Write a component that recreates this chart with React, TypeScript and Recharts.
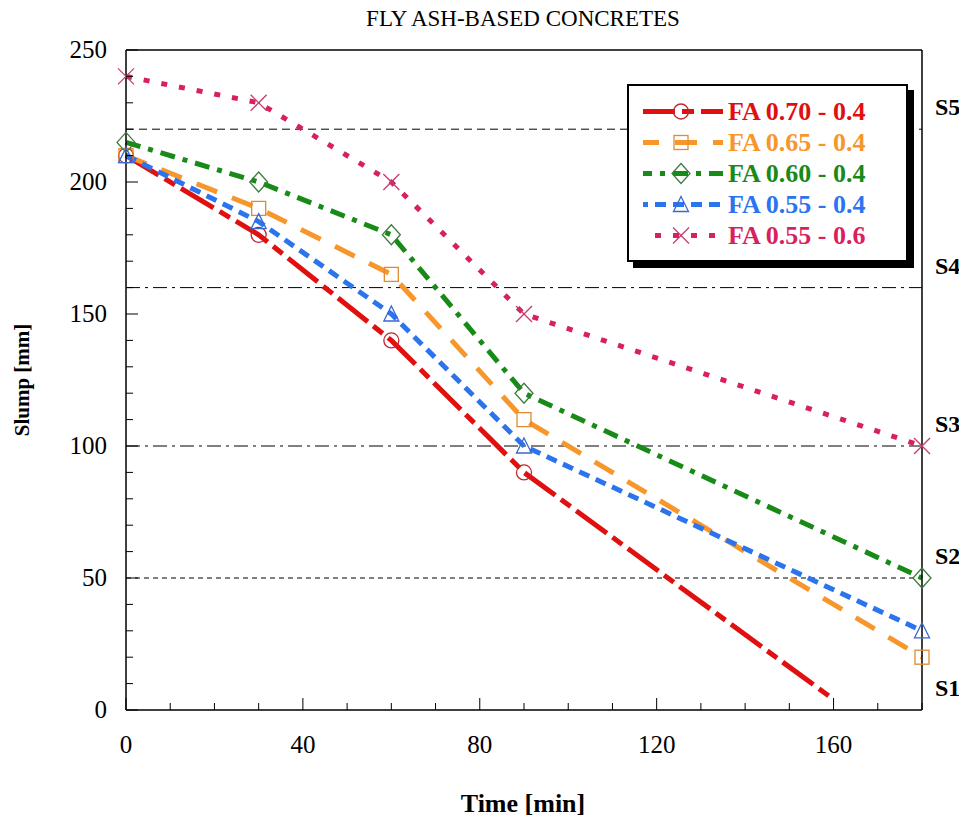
import React from "react";
import { LineChart, Line, XAxis, YAxis, ReferenceLine } from "recharts";

// values
const redTimes = [0, 30, 60, 90, 160];
const redSlump = [210, 180, 140, 90, 4];
const times = [0, 30, 60, 90, 180];
const orangeSlump = [210, 190, 165, 110, 20];
const greenSlump = [215, 200, 180, 120, 50];
const blueSlump = [210, 185, 150, 100, 30];
const pinkSlump = [240, 230, 200, 150, 100];

const xTicks = [0, 10, 20, 30, 40, 50, 60, 70, 80, 90, 100, 110, 120, 130, 140, 150, 160, 170, 180];
const yTicks = [0, 10, 20, 30, 40, 50, 60, 70, 80, 90, 100, 110, 120, 130, 140, 150, 160, 170, 180, 190, 200, 210, 220, 230, 240, 250];

const classes = [
  { y: 0, label: "S1", dash: "", show: false },
  { y: 50, label: "S2", dash: "5 4", show: true },
  { y: 100, label: "S3", dash: "14 5 3 5", show: true },
  { y: 160, label: "S4", dash: "14 5 3 5", show: true },
  { y: 220, label: "S5", dash: "8 5", show: true },
];

const FONT = "'Liberation Serif', 'Times New Roman', serif";

type Shape = "circle" | "square" | "diamond" | "triangle" | "cross";

const series = [
  { name: "FA 0.70 - 0.4", color: "#e01010", mark: "#c0262e", dash: "38 7 12 7", shape: "circle" as Shape, t: redTimes, v: redSlump, noMarkAt: 160 },
  { name: "FA 0.65 - 0.4", color: "#f7962a", mark: "#e08b2f", dash: "22 16", shape: "square" as Shape, t: times, v: orangeSlump, noMarkAt: -1 },
  { name: "FA 0.60 - 0.4", color: "#178a17", mark: "#3c7c3c", dash: "15 8 5 8", shape: "diamond" as Shape, t: times, v: greenSlump, noMarkAt: -1 },
  { name: "FA 0.55 - 0.4", color: "#2b74ee", mark: "#3868d0", dash: "11 7", shape: "triangle" as Shape, t: times, v: blueSlump, noMarkAt: -1 },
  { name: "FA 0.55 - 0.6", color: "#d81f5f", mark: "#c53a6f", dash: "6 12", shape: "cross" as Shape, t: times, v: pinkSlump, noMarkAt: -1 },
];

function Marker({ shape, cx, cy, color }: { shape: Shape; cx: number; cy: number; color: string }) {
  const p = { fill: "none", stroke: color, strokeWidth: 1.3 };
  if (shape === "circle") return <circle cx={cx} cy={cy} r={7.5} {...p} />;
  if (shape === "square") return <rect x={cx - 7} y={cy - 7} width={14} height={14} {...p} />;
  if (shape === "diamond")
    return <polygon points={`${cx},${cy - 10} ${cx + 9},${cy} ${cx},${cy + 10} ${cx - 9},${cy}`} {...p} />;
  if (shape === "triangle")
    return <polygon points={`${cx},${cy - 8} ${cx + 7.5},${cy + 7} ${cx - 7.5},${cy + 7}`} {...p} />;
  return (
    <g {...p}>
      <line x1={cx - 8} y1={cy - 8} x2={cx + 8} y2={cy + 8} />
      <line x1={cx - 8} y1={cy + 8} x2={cx + 8} y2={cy - 8} />
    </g>
  );
}

const BottomTick = ({ x, y, payload }: any) => {
  const major = payload.value % 40 === 0;
  return (
    <g>
      <line x1={x} x2={x} y1={y} y2={y - (major ? 12 : 7)} stroke="#000" strokeWidth={1} />
      {major && (
        <text x={x} y={y + 43} textAnchor="middle" fontFamily={FONT} fontSize={25} fill="#000">
          {payload.value}
        </text>
      )}
    </g>
  );
};

const TopTick = ({ x, y, payload }: any) => {
  const major = payload.value % 40 === 0;
  return <line x1={x} x2={x} y1={y} y2={y + (major ? 12 : 7)} stroke="#000" strokeWidth={1} />;
};

const LeftTick = ({ x, y, payload }: any) => {
  const major = payload.value % 50 === 0;
  return (
    <g>
      <line x1={x} x2={x + (major ? 12 : 7)} y1={y} y2={y} stroke="#000" strokeWidth={1} />
      {major && (
        <text x={x - 19} y={y + 8} textAnchor="end" fontFamily={FONT} fontSize={25} fill="#000">
          {payload.value}
        </text>
      )}
    </g>
  );
};

const RightTick = ({ x, y, payload }: any) => {
  const major = payload.value % 50 === 0;
  return <line x1={x} x2={x - (major ? 12 : 7)} y1={y} y2={y} stroke="#000" strokeWidth={1} />;
};

const classLabel = (text: string) => (props: any) => {
  const vb = props.viewBox;
  return (
    <text x={vb.x + vb.width + 13} y={vb.y - 14} fontFamily={FONT} fontSize={24} fontWeight="bold" fill="#000">
      {text}
    </text>
  );
};

export default function App() {
  return (
    <div style={{ position: "relative", width: 959, height: 812, fontFamily: FONT, background: "#fff" }}>
      <LineChart width={959} height={812} margin={{ top: 32, right: 35, bottom: 80, left: 58 }}>
        <XAxis
          xAxisId="top"
          orientation="top"
          type="number"
          dataKey="time"
          domain={[0, 180]}
          ticks={xTicks}
          height={10}
          tickSize={0}
          tickMargin={0}
          tickLine={false}
          tick={<TopTick />}
          axisLine={{ stroke: "#000", strokeWidth: 1.5 }}
        />
        <XAxis
          type="number"
          dataKey="time"
          domain={[0, 180]}
          ticks={xTicks}
          height={30}
          tickSize={0}
          tickMargin={0}
          tickLine={false}
          tick={<BottomTick />}
          interval={0}
          axisLine={{ stroke: "#000", strokeWidth: 1.5 }}
        />
        <YAxis
          type="number"
          domain={[0, 250]}
          ticks={yTicks}
          width={60}
          tickSize={0}
          tickMargin={0}
          tickLine={false}
          tick={<LeftTick />}
          interval={0}
          axisLine={{ stroke: "#000", strokeWidth: 1.5 }}
        />
        <YAxis
          yAxisId="right"
          orientation="right"
          type="number"
          domain={[0, 250]}
          ticks={yTicks}
          width={10}
          tickSize={0}
          tickMargin={0}
          tickLine={false}
          tick={<RightTick />}
          interval={0}
          axisLine={{ stroke: "#000", strokeWidth: 1.5 }}
        />
        {classes.map((c) => (
          <ReferenceLine
            key={c.label}
            y={c.y}
            stroke={c.show ? "#000" : "none"}
            strokeWidth={1}
            strokeDasharray={c.dash}
            label={classLabel(c.label)}
            ifOverflow="visible"
          />
        ))}
        {series.map((s) => (
          <Line
            key={s.name}
            name={s.name}
            data={s.t.map((t, i) => ({ time: t, slump: s.v[i] }))}
            dataKey="slump"
            type="linear"
            stroke={s.color}
            strokeWidth={5}
            strokeDasharray={s.dash}
            isAnimationActive={false}
            activeDot={false}
            dot={(p: any) =>
              p.payload.time === s.noMarkAt ? (
                <g key={p.key ?? p.index} />
              ) : (
                <g key={p.key ?? p.index}>
                  <Marker shape={s.shape} cx={p.cx} cy={p.cy} color={s.mark} />
                </g>
              )
            }
          />
        ))}
      </LineChart>

      <div style={{ position: "absolute", left: 215, top: -1, width: 600, textAlign: "center", fontSize: 23, lineHeight: "24px" }}>
        FLY ASH-BASED CONCRETES
      </div>
      <div
        style={{ position: "absolute", left: 215, top: 781, width: 600, textAlign: "center", fontSize: 26, fontWeight: "bold", lineHeight: "30px" }}
      >
        Time [min]
      </div>
      <div
        style={{
          position: "absolute",
          left: 14 - 100,
          top: 372 - 12,
          width: 200,
          textAlign: "center",
          fontSize: 21,
          fontWeight: "bold",
          lineHeight: "24px",
          transform: "rotate(-90deg)",
        }}
      >
        Slump [mm]
      </div>

      <div
        style={{
          position: "absolute",
          left: 619,
          top: 76,
          width: 277,
          height: 174,
          border: "2px solid #000",
          boxShadow: "6px 6px 0 #000",
          background: "#fff",
        }}
      >
        {series.map((s, i) => (
          <div key={s.name} style={{ position: "absolute", left: 0, top: 10 + i * 31, height: 31, display: "flex", alignItems: "center" }}>
            <svg width={96} height={31} style={{ display: "block" }}>
              <line x1={14} x2={94} y1={15.5} y2={15.5} stroke={s.color} strokeWidth={5} strokeDasharray={s.dash} strokeDashoffset={6} />
              <Marker shape={s.shape} cx={52} cy={15.5} color={s.mark} />
            </svg>
            <span style={{ color: s.color, fontWeight: "bold", fontSize: 26, lineHeight: "31px", marginLeft: 3, whiteSpace: "nowrap" }}>
              {s.name}
            </span>
          </div>
        ))}
      </div>
    </div>
  );
}
